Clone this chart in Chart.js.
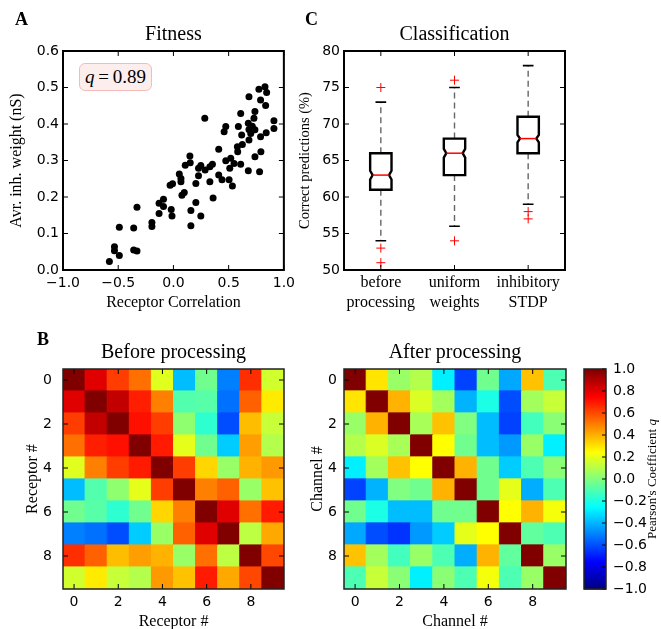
<!DOCTYPE html>
<html>
<head>
<meta charset="utf-8">
<script src="https://cdn.jsdelivr.net/npm/chart.js@4.4.0/dist/chart.umd.min.js"></script>
<style>
  html, body { margin: 0; padding: 0; background: #fff; overflow: hidden; }
  #fig { position: relative; width: 661px; height: 629px; overflow: hidden; background: #fff; }
  #fig canvas { position: absolute; }
  .letter { position: absolute; font: bold 18px 'Liberation Serif', serif; line-height: 18px; }
  #qbox { position: absolute; left: 79px; top: 63px; width: 71px; height: 26px;
          border: 1.5px solid #f5baba; background: #fdeeee; border-radius: 6px;
          font: 19px 'Liberation Serif', serif; display: flex; align-items: center; justify-content: center; }
</style>
</head>
<body>
<div id="fig">
  <canvas id="fitness" width="300" height="318" style="left:0;top:0"></canvas>
  <canvas id="classif" width="300" height="318" style="left:290px;top:0"></canvas>
  <canvas id="heatBefore" width="300" height="320" style="left:0;top:320px"></canvas>
  <canvas id="heatAfter" width="290" height="320" style="left:300px;top:320px"></canvas>
  <canvas id="cbar" width="91" height="320" style="left:570px;top:320px"></canvas>
  <div class="letter" style="left:15px;top:10px">A</div>
  <div class="letter" style="left:305px;top:10px">C</div>
  <div class="letter" style="left:37px;top:330px">B</div>
  <div id="qbox"><i>q</i>&thinsp;=&thinsp;0.89</div>
</div>
<script>
// --- panel A: fitness scatter ---
const corrX = [
  -0.58, -0.534, -0.534, -0.49, -0.49, -0.36, -0.36, -0.33, -0.33, -0.195,
  -0.195, -0.13, -0.13, -0.09, -0.09, -0.02, -0.013, -0.03, -0.008, 0.053,
  0.068, 0.068, 0.077, 0.098, 0.107, 0.149, 0.152, 0.158, 0.158, 0.203,
  0.203, 0.227, 0.227, 0.248, 0.248, 0.284, 0.287, 0.33, 0.33, 0.353,
  0.359, 0.41, 0.41, 0.44, 0.459, 0.474, 0.474, 0.504, 0.51, 0.519,
  0.534, 0.549, 0.579, 0.582, 0.588, 0.609, 0.618, 0.624, 0.609, 0.684,
  0.678, 0.684, 0.684, 0.678, 0.729, 0.738, 0.738, 0.738, 0.774, 0.78,
  0.789, 0.789, 0.792, 0.829, 0.835, 0.844, 0.84, 0.91, 0.91, 0.714, 0.7
];
const weightY = [
  0.023, 0.064, 0.053, 0.04, 0.117, 0.115, 0.055, 0.052, 0.172, 0.13,
  0.119, 0.155, 0.183, 0.194, 0.174, 0.166, 0.148, 0.232, 0.236, 0.263,
  0.242, 0.251, 0.205, 0.212, 0.287, 0.312, 0.294, 0.163, 0.121, 0.237,
  0.185, 0.258, 0.279, 0.286, 0.148, 0.416, 0.274, 0.283, 0.242, 0.29,
  0.197, 0.331, 0.26, 0.247, 0.379, 0.393, 0.299, 0.247, 0.279, 0.306,
  0.23, 0.292, 0.338, 0.324, 0.393, 0.429, 0.37, 0.344, 0.29, 0.475,
  0.402, 0.385, 0.356, 0.272, 0.416, 0.434, 0.384, 0.31, 0.495, 0.269,
  0.365, 0.466, 0.324, 0.502, 0.451, 0.486, 0.376, 0.409, 0.388, 0.394, 0.374
];
const corrTicks = [-1, -0.5, 0, 0.5, 1];
const weightTicks = [0, 0.1, 0.2, 0.3, 0.4, 0.5, 0.6];

// --- panel C: classification box plots ---
const boxLabels = [['before', 'processing'], ['uniform', 'weights'], ['inhibitory', 'STDP']];
const whiskLo = [54, 56, 59];
const q1 = [61, 63, 66];
const medians = [63, 66, 68];
const q3 = [66, 68, 71];
const whiskHi = [73, 75, 78];
const notchLo = [62.4, 65.4, 67.5];
const notchHi = [63.6, 66.6, 68.5];
const outlierBox = [0, 0, 0, 1, 1, 2, 2];
const outlierVals = [75, 53, 51, 76, 54, 58, 57];
const predTicks = [50, 55, 60, 65, 70, 75, 80];

// --- panel B: correlation matrices ---
const beforeCorr = [
  [1.00, 0.81, 0.63, 0.53, 0.19, -0.38, -0.03, -0.50, 0.66, 0.16],
  [0.81, 1.00, 0.87, 0.69, 0.50, -0.09, -0.08, -0.53, 0.56, 0.29],
  [0.63, 0.87, 1.00, 0.72, 0.63, 0.03, -0.16, -0.60, 0.38, 0.14],
  [0.53, 0.69, 0.72, 1.00, 0.70, 0.20, -0.03, -0.35, 0.44, 0.10],
  [0.19, 0.50, 0.63, 0.70, 1.00, 0.63, 0.33, 0.05, 0.40, 0.45],
  [-0.38, -0.09, 0.03, 0.20, 0.63, 1.00, 0.50, 0.56, 0.05, 0.37],
  [-0.03, -0.08, -0.16, -0.03, 0.33, 0.50, 1.00, 0.81, 0.53, 0.70],
  [-0.50, -0.53, -0.60, -0.35, 0.05, 0.56, 0.81, 1.00, 0.12, 0.42],
  [0.66, 0.56, 0.38, 0.44, 0.40, 0.05, 0.53, 0.12, 1.00, 0.61],
  [0.16, 0.29, 0.14, 0.10, 0.45, 0.37, 0.70, 0.42, 0.61, 1.00]
];
const afterCorr = [
  [1.00, 0.30, 0.05, 0.10, -0.28, -0.62, -0.03, -0.42, 0.37, -0.10],
  [0.30, 1.00, 0.40, 0.18, 0.07, -0.40, -0.20, -0.60, 0.07, 0.14],
  [0.05, 0.40, 1.00, 0.08, 0.37, 0.00, -0.38, -0.62, -0.12, 0.02],
  [0.10, 0.18, 0.08, 1.00, 0.25, -0.03, -0.38, -0.45, 0.05, -0.28],
  [-0.28, 0.07, 0.37, 0.25, 1.00, 0.40, -0.03, -0.35, -0.10, 0.02],
  [-0.62, -0.40, 0.00, -0.03, 0.40, 1.00, -0.03, 0.20, -0.41, -0.10],
  [-0.03, -0.20, -0.38, -0.38, -0.03, -0.03, 1.00, 0.25, 0.40, 0.23],
  [-0.42, -0.60, -0.65, -0.45, -0.35, 0.20, 0.25, 1.00, -0.06, -0.10],
  [0.37, 0.07, -0.12, 0.05, -0.10, -0.41, 0.40, -0.06, 1.00, 0.05],
  [-0.10, 0.14, 0.02, -0.28, 0.02, -0.10, 0.23, -0.10, 0.05, 1.00]
];
const heatTicks = [0, 2, 4, 6, 8];
const cbarTicks = [-1, -0.8, -0.6, -0.4, -0.2, 0, 0.2, 0.4, 0.6, 0.8, 1];

const serif = "'Liberation Serif', 'Times New Roman', serif";
const sans = "'DejaVu Sans', sans-serif";
Chart.defaults.font.family = sans;
Chart.defaults.font.size = 14;
Chart.defaults.color = '#000';
Chart.defaults.animation = false;
Chart.defaults.plugins.legend.display = false;
Chart.defaults.plugins.tooltip.enabled = false;

const fmt1 = v => (v < -1e-9 ? '\u2212' : '') + Math.abs(v).toFixed(1);

// matplotlib "jet" colormap for values in [-1, 1]
function jet(v) {
  const t = (v + 1) / 2;
  const c = x => Math.round(255 * Math.max(0, Math.min(1, x)));
  return `rgb(${c(1.5 - Math.abs(4 * t - 3))},${c(1.5 - Math.abs(4 * t - 2))},${c(1.5 - Math.abs(4 * t - 1))})`;
}

const setTicks = vals => s => { s.ticks = vals.map(v => ({ value: v })); };
const noGrid = { display: false, drawTicks: false };

// box frame with inward ticks, matplotlib style
const framePlugin = {
  id: 'frame',
  afterDatasetsDraw(chart, args, opts) {
    const { ctx, chartArea: a, scales: { x, y } } = chart;
    const len = opts.tickLen || 5;
    const sides = opts.sides || 'tblr';
    ctx.save();
    ctx.strokeStyle = '#000';
    ctx.lineWidth = 1;
    ctx.beginPath();
    if (x && x.options.display) x.ticks.forEach((t, i) => {
      const p = x.getPixelForTick(i);
      if (sides.includes('b')) { ctx.moveTo(p, a.bottom); ctx.lineTo(p, a.bottom - len); }
      if (sides.includes('t')) { ctx.moveTo(p, a.top); ctx.lineTo(p, a.top + len); }
    });
    if (y) y.ticks.forEach((t, i) => {
      const p = y.getPixelForTick(i);
      if (sides.includes('l')) { ctx.moveTo(a.left, p); ctx.lineTo(a.left + len, p); }
      if (sides.includes('r')) { ctx.moveTo(a.right, p); ctx.lineTo(a.right - len, p); }
    });
    ctx.stroke();
    ctx.strokeStyle = opts.color || '#000';
    ctx.lineWidth = opts.width || 1.8;
    ctx.strokeRect(a.left, a.top, a.width, a.height);
    ctx.restore();
  }
};
Chart.register(framePlugin);

function titleOpts(text, top) {
  return { display: true, text, fullSize: false, color: '#000',
           font: { family: serif, size: 20, weight: 'normal' }, padding: { top, bottom: 4 } };
}

// ---- A: Fitness ----
new Chart(document.getElementById('fitness'), {
  type: 'scatter',
  data: { datasets: [{
    data: corrX.map((x, i) => ({ x, y: weightY[i] })),
    pointRadius: 3.5, pointBackgroundColor: '#000', pointBorderWidth: 0
  }] },
  options: {
    responsive: false,
    layout: { padding: { left: 0, right: 15, top: 0, bottom: 0 } },
    plugins: { title: titleOpts('Fitness', 23), frame: { width: 2 } },
    scales: {
      x: {
        type: 'linear', min: -1, max: 1, afterBuildTicks: setTicks(corrTicks),
        grid: noGrid, border: { display: false },
        ticks: { padding: 5, maxRotation: 0, autoSkip: false, callback: v => fmt1(v) },
        title: { display: true, text: 'Receptor Correlation', font: { family: serif, size: 16 },
                 padding: { top: 0, bottom: 5.4 } },
        afterFit: s => { s.height = 48; }
      },
      y: {
        min: 0, max: 0.6, afterBuildTicks: setTicks(weightTicks),
        grid: noGrid, border: { display: false },
        ticks: { padding: 4, autoSkip: false, callback: v => fmt1(v) },
        title: { display: true, text: 'Avr. inh. weight (nS)', font: { family: serif, size: 16 },
                 padding: { top: 7, bottom: 0 } },
        afterFit: s => { s.width = 63; }
      }
    }
  }
});

// ---- C: Classification ----
const boxPlugin = {
  id: 'boxes',
  beforeDatasetsDraw(chart) {
    const { ctx, scales: { x, y } } = chart;
    const step = x.getPixelForValue(1) - x.getPixelForValue(0);
    const hw = step * 0.145, cap = hw * 0.5, notch = 2.5;
    const py = v => y.getPixelForValue(v);
    ctx.save();
    boxLabels.forEach((_, i) => {
      const cx = x.getPixelForValue(i);
      // whiskers
      ctx.setLineDash([6, 4]);
      ctx.strokeStyle = '#666';
      ctx.lineWidth = 1.4;
      ctx.beginPath();
      ctx.moveTo(cx, py(q3[i])); ctx.lineTo(cx, py(whiskHi[i]));
      ctx.moveTo(cx, py(q1[i])); ctx.lineTo(cx, py(whiskLo[i]));
      ctx.stroke();
      ctx.setLineDash([]);
      // caps
      ctx.strokeStyle = '#000';
      ctx.lineWidth = 1.6;
      ctx.beginPath();
      ctx.moveTo(cx - cap, py(whiskHi[i])); ctx.lineTo(cx + cap, py(whiskHi[i]));
      ctx.moveTo(cx - cap, py(whiskLo[i])); ctx.lineTo(cx + cap, py(whiskLo[i]));
      ctx.stroke();
      // notched box
      ctx.lineWidth = 2.4;
      ctx.lineJoin = 'miter';
      ctx.beginPath();
      ctx.moveTo(cx - hw, py(q1[i]));
      ctx.lineTo(cx - hw, py(notchLo[i]));
      ctx.lineTo(cx - hw + notch, py(medians[i]));
      ctx.lineTo(cx - hw, py(notchHi[i]));
      ctx.lineTo(cx - hw, py(q3[i]));
      ctx.lineTo(cx + hw, py(q3[i]));
      ctx.lineTo(cx + hw, py(notchHi[i]));
      ctx.lineTo(cx + hw - notch, py(medians[i]));
      ctx.lineTo(cx + hw, py(notchLo[i]));
      ctx.lineTo(cx + hw, py(q1[i]));
      ctx.closePath();
      ctx.stroke();
      // median
      ctx.strokeStyle = '#ff0000';
      ctx.lineWidth = 1.5;
      ctx.beginPath();
      ctx.moveTo(cx - hw + notch, py(medians[i]));
      ctx.lineTo(cx + hw - notch, py(medians[i]));
      ctx.stroke();
    });
    ctx.restore();
  }
};

new Chart(document.getElementById('classif'), {
  type: 'scatter',
  data: {
    labels: boxLabels,
    datasets: [{
      // category scale finds each label by reference in data.labels
      data: outlierBox.map((b, i) => ({ x: boxLabels[b], y: outlierVals[i] })),
      pointStyle: 'cross', pointRadius: 4.5, pointBorderColor: '#ff0000', pointBorderWidth: 1
    }]
  },
  plugins: [boxPlugin],
  options: {
    responsive: false,
    layout: { padding: { left: 0, right: 25, top: 0, bottom: 0 } },
    plugins: { title: titleOpts('Classification', 23), frame: { width: 2 } },
    scales: {
      x: {
        type: 'category', offset: true,
        grid: noGrid, border: { display: false },
        ticks: { padding: 3, maxRotation: 0, autoSkip: false,
                 font: { family: serif, size: 16, lineHeight: 1.25 } },
        afterFit: s => { s.height = 48; }
      },
      y: {
        min: 50, max: 80, afterBuildTicks: setTicks(predTicks),
        grid: noGrid, border: { display: false },
        ticks: { padding: 4, autoSkip: false },
        title: { display: true, text: 'Correct predictions (%)', font: { family: serif, size: 14.5 },
                 padding: { top: 6.3, bottom: 0 } },
        afterFit: s => { s.width = 54; }
      }
    }
  }
});

// ---- B: correlation heatmaps ----
function heatmap(id, matrix, title, axisName, yWidth, yPad, yTitlePad, rightPad) {
  const cells = [];
  matrix.forEach((row, i) => row.forEach((v, j) => cells.push({ x: j, y: i, v })));
  const cellR = c => {
    const xs = c.chart.scales.x;
    return Math.abs(xs.getPixelForValue(1) - xs.getPixelForValue(0)) / Math.SQRT2;
  };
  return new Chart(document.getElementById(id), {
    type: 'scatter',
    data: { datasets: [{
      data: cells, pointStyle: 'rect',
      pointRadius: cellR, pointHoverRadius: cellR,
      pointBackgroundColor: c => jet(c.raw.v),
      pointBorderColor: c => jet(c.raw.v),
      pointBorderWidth: 1
    }] },
    options: {
      responsive: false,
      layout: { padding: { left: 0, right: rightPad, top: 0, bottom: 0 } },
      plugins: { title: titleOpts(title, 21), frame: { width: 1.5, color: '#222' } },
      scales: {
        x: {
          type: 'linear', min: -0.5, max: 9.5, afterBuildTicks: setTicks(heatTicks),
          grid: noGrid, border: { display: false },
          ticks: { padding: 5, maxRotation: 0, autoSkip: false },
          title: { display: true, text: axisName, font: { family: serif, size: 16 },
                   padding: { top: 0, bottom: 8.4 } },
          afterFit: s => { s.height = 51; }
        },
        y: {
          type: 'linear', min: -0.5, max: 9.5, reverse: true, afterBuildTicks: setTicks(heatTicks),
          grid: noGrid, border: { display: false },
          ticks: { padding: yPad, autoSkip: false },
          title: { display: true, text: axisName, font: { family: serif, size: 16 },
                   padding: { top: yTitlePad, bottom: 0 } },
          afterFit: s => { s.width = yWidth; }
        }
      }
    }
  });
}
heatmap('heatBefore', beforeCorr, 'Before processing', 'Receptor #', 63, 11, 23.4, 16);
heatmap('heatAfter', afterCorr, 'After processing', 'Channel #', 44, 7, 8.4, 24);

// ---- colour bar ----
const colorbarPlugin = {
  id: 'colorbar',
  beforeDatasetsDraw(chart) {
    const { ctx, chartArea: a, scales: { y } } = chart;
    const n = 110;
    for (let k = 0; k < n; k++) {
      const v0 = y.min + (y.max - y.min) * k / n;
      const v1 = y.min + (y.max - y.min) * (k + 1) / n;
      const p0 = y.getPixelForValue(v0), p1 = y.getPixelForValue(v1);
      ctx.fillStyle = jet((v0 + v1) / 2);
      ctx.fillRect(a.left, p1, a.width, p0 - p1 + 0.6);
    }
  },
  afterDraw(chart) {
    const { ctx, chartArea: a } = chart;
    const t1 = "Pearson's Coefficient ", t2 = 'q';
    ctx.save();
    ctx.translate(a.right + 47, (a.top + a.bottom) / 2);
    ctx.rotate(-Math.PI / 2);
    ctx.fillStyle = '#000';
    ctx.textBaseline = 'middle';
    ctx.font = `13px ${serif}`;
    const w1 = ctx.measureText(t1).width;
    ctx.font = `italic 13px ${serif}`;
    const w2 = ctx.measureText(t2).width;
    const x0 = -(w1 + w2) / 2;
    ctx.font = `13px ${serif}`;
    ctx.fillText(t1, x0, 0);
    ctx.font = `italic 13px ${serif}`;
    ctx.fillText(t2, x0 + w1, 0);
    ctx.restore();
  }
};

new Chart(document.getElementById('cbar'), {
  type: 'scatter',
  data: { datasets: [] },
  plugins: [colorbarPlugin],
  options: {
    responsive: false,
    layout: { padding: { left: 14, right: 0, top: 49, bottom: 51 } },
    plugins: { frame: { sides: 'r', tickLen: 4, width: 1.5, color: '#222' } },
    scales: {
      x: { display: false, min: 0, max: 1 },
      y: {
        position: 'right', min: -1, max: 1, afterBuildTicks: setTicks(cbarTicks),
        grid: noGrid, border: { display: false },
        ticks: { padding: 7, autoSkip: false, callback: v => fmt1(v) },
        afterFit: s => { s.width = 55; }
      }
    }
  }
});
</script>
</body>
</html>
